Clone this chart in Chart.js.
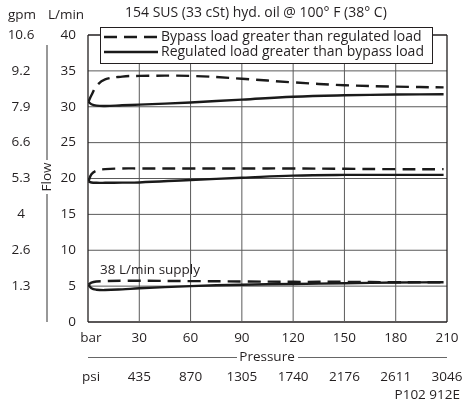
<!DOCTYPE html>
<html>
<head>
<meta charset="utf-8">
<script src="https://cdn.jsdelivr.net/npm/chart.js@4"></script>
<style>
  body { margin: 0; background: #fff; }
  canvas { display: block; }
</style>
</head>
<body>
<canvas id="flowChart" width="462" height="403"></canvas>
<script>
// axis labels
var barTicks = [0, 30, 60, 90, 120, 150, 180, 210];
var barLabels = ["bar", "30", "60", "90", "120", "150", "180", "210"];
var psiLabels = ["psi", "435", "870", "1305", "1740", "2176", "2611", "3046"];
var flowTicks = [0, 5, 10, 15, 20, 25, 30, 35, 40];
var gpmLabels = ["", "1.3", "2.6", "4", "5.3", "6.6", "7.9", "9.2", "10.6"];

// curve data, x = bar
var curveBar = [0.3, 2, 5, 10, 20, 30, 60, 90, 120, 150, 180, 208];
var upperSolid = [30.7, 30.35, 30.15, 30.1, 30.2, 30.3, 30.6, 31.0, 31.4, 31.6, 31.7, 31.75];
var upperDashed = [30.7, 31.6, 32.9, 33.8, 34.2, 34.3, 34.3, 33.9, 33.4, 33.0, 32.8, 32.7];
var middleSolid = [19.6, 19.45, 19.4, 19.4, 19.42, 19.45, 19.8, 20.1, 20.4, 20.5, 20.5, 20.5];
var middleDashed = [19.6, 20.6, 21.1, 21.3, 21.4, 21.4, 21.4, 21.4, 21.4, 21.35, 21.3, 21.3];
var lowerSolid = [5.2, 4.7, 4.5, 4.45, 4.55, 4.7, 5.0, 5.2, 5.3, 5.4, 5.5, 5.55];
var lowerDashed = [5.2, 5.5, 5.65, 5.7, 5.75, 5.75, 5.7, 5.65, 5.6, 5.6, 5.55, 5.55];

var legendLabels = ["Bypass load greater than regulated load", "Regulated load greater than bypass load"];
var titleText = "154 SUS (33 cSt) hyd. oil @ 100\u00b0 F (38\u00b0 C)";

var textColor = "#231f20";
var font = "'Open Sans', sans-serif";

function points(ys) {
    return ys.map(function (y, i) { return { x: curveBar[i], y: y }; });
}

function curve(ys, dashed) {
    return {
        data: points(ys),
        borderColor: "#1a1a1a",
        borderWidth: 2.4,
        borderDash: dashed ? [13, 7] : [],
        pointRadius: 0,
        tension: 0.4,
        fill: false,
        order: 0
    };
}

// grid lines as thin datasets, built from the tick arrays
function gridLine(pts, edge) {
    return {
        data: pts,
        borderColor: edge ? "#231f20" : "#5a5a5a",
        borderWidth: edge ? 1.3 : 1,
        pointRadius: 0,
        tension: 0,
        fill: false,
        clip: false,
        order: 10
    };
}

var gridSets = [];
barTicks.forEach(function (v, i) {
    var edge = i === 0 || i === barTicks.length - 1;
    gridSets.push(gridLine([{ x: v, y: 0 }, { x: v, y: 40 }], edge));
});
flowTicks.forEach(function (v, i) {
    var edge = i === 0 || i === flowTicks.length - 1;
    gridSets.push(gridLine([{ x: 0, y: v }, { x: 210, y: v }], edge));
});

var labelsPlugin = {
    id: "labelsPlugin",
    afterDraw: function (chart) {
        var ctx = chart.ctx;
        var xs = chart.scales.x;
        var ys = chart.scales.y;
        var area = chart.chartArea;
        ctx.save();
        ctx.fillStyle = textColor;
        ctx.textBaseline = "middle";

        // title
        ctx.font = "14px " + font;
        ctx.textAlign = "left";
        ctx.fillText(titleText, 125, 13);

        // unit headers
        ctx.font = "13.5px " + font;
        ctx.textAlign = "center";
        ctx.fillText("gpm", 22, 15);
        ctx.fillText("L/min", 66, 15);

        // left tick labels
        flowTicks.forEach(function (v, i) {
            var y = ys.getPixelForValue(v);
            ctx.textAlign = "right";
            ctx.fillText(String(v), 76, y);
            if (gpmLabels[i]) {
                ctx.textAlign = "center";
                ctx.fillText(gpmLabels[i], 21, y);
            }
        });

        // Flow axis line + title
        ctx.strokeStyle = "#777";
        ctx.lineWidth = 1.5;
        ctx.beginPath();
        ctx.moveTo(47, 45); ctx.lineTo(47, 160);
        ctx.moveTo(47, 194); ctx.lineTo(47, area.bottom);
        ctx.stroke();
        ctx.save();
        ctx.translate(47, 177);
        ctx.rotate(-Math.PI / 2);
        ctx.textAlign = "center";
        ctx.fillText("Flow", 0, 0);
        ctx.restore();

        // bottom labels
        barTicks.forEach(function (v, i) {
            var x = xs.getPixelForValue(v);
            if (i === 0) x += 3;
            ctx.textAlign = "center";
            ctx.fillText(barLabels[i], x, 338);
            ctx.fillText(psiLabels[i], x, 377);
        });
        ctx.fillText("Pressure", 267, 357);
        ctx.strokeStyle = "#666";
        ctx.lineWidth = 1;
        ctx.beginPath();
        ctx.moveTo(area.left, 357.5); ctx.lineTo(237, 357.5);
        ctx.moveTo(298, 357.5); ctx.lineTo(area.right, 357.5);
        ctx.stroke();
        ctx.textAlign = "right";
        ctx.fillText("P102 912E", 460, 395);

        // supply note
        ctx.textAlign = "left";
        ctx.fillText("38 L/min supply", 100, 270);

        // legend box
        ctx.fillStyle = "#fff";
        ctx.fillRect(100, 27, 333, 37);
        ctx.strokeStyle = "#231f20";
        ctx.lineWidth = 1;
        ctx.strokeRect(100.5, 27.5, 332, 36);
        ctx.strokeStyle = "#1a1a1a";
        ctx.lineWidth = 2.4;
        ctx.beginPath();
        ctx.setLineDash([13, 7]);
        ctx.moveTo(104, 37); ctx.lineTo(158, 37);
        ctx.stroke();
        ctx.beginPath();
        ctx.setLineDash([]);
        ctx.moveTo(104, 52); ctx.lineTo(158, 52);
        ctx.stroke();
        ctx.fillStyle = textColor;
        ctx.font = "14px " + font;
        ctx.textAlign = "left";
        ctx.fillText(legendLabels[0], 161, 37);
        ctx.fillText(legendLabels[1], 161, 52);
        ctx.restore();
    }
};

var chart = new Chart(document.getElementById("flowChart").getContext("2d"), {
    type: "line",
    data: {
        datasets: [
            curve(upperDashed, true),
            curve(upperSolid, false),
            curve(middleDashed, true),
            curve(middleSolid, false),
            curve(lowerDashed, true),
            curve(lowerSolid, false)
        ].concat(gridSets)
    },
    options: {
        responsive: false,
        animation: false,
        devicePixelRatio: 1,
        layout: { padding: { left: 88, top: 35, right: 15, bottom: 81 } },
        plugins: { legend: { display: false }, tooltip: { enabled: false } },
        scales: {
            x: {
                type: "linear",
                min: 0,
                max: 210,
                display: false
            },
            y: {
                min: 0,
                max: 40,
                display: false
            }
        }
    },
    plugins: [labelsPlugin]
});
</script>
</body>
</html>
